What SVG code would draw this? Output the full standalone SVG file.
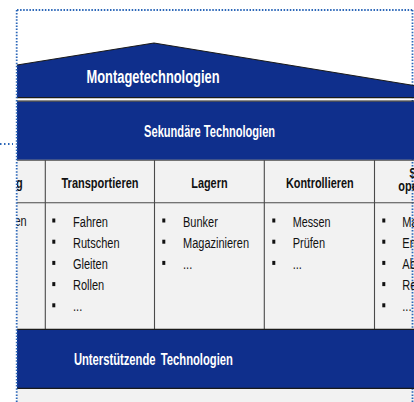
<svg xmlns="http://www.w3.org/2000/svg" width="414" height="402" viewBox="0 0 414 402">
  <style>
    .blue { fill: #0f2f8c; }
    .cell { fill: #f2f2f2; }
    .rule { stroke: #1a1a1a; stroke-width: 1.2; fill: none; }
    .div { stroke: #4a4a4a; stroke-width: 1.1; fill: none; }
    .dot { stroke: #2a66b8; stroke-width: 1.8; stroke-dasharray: 1.5 1.6; fill: none; }
    .title { font-family: "Liberation Sans Narrow", "Arial Narrow", "Liberation Sans", sans-serif; font-weight: bold; fill: #ffffff; text-anchor: middle; }
    .head { font-family: "Liberation Sans Narrow", "Arial Narrow", "Liberation Sans", sans-serif; font-weight: bold; font-size: 14.5px; fill: #111111; text-anchor: middle; }
    .item { font-family: "Liberation Sans Narrow", "Arial Narrow", "Liberation Sans", sans-serif; font-size: 15.5px; fill: #111111; }
    .bul { fill: #111111; }
  </style>
  <defs>
    <clipPath id="frameClip"><rect x="17" y="0" width="397" height="402"/></clipPath>
  </defs>
  <rect x="0" y="0" width="414" height="402" fill="#ffffff"/>
  <g clip-path="url(#frameClip)">
    <rect class="cell" x="17" y="160" width="397" height="169"/>
    <rect class="cell" x="17" y="389" width="397" height="13"/>
    <line class="dot" x1="412.5" y1="10" x2="412.5" y2="402"/>

    <g id="roof">
      <polygon class="blue" points="17,65 154,43 414,85.5 414,97.5 17,97.5"/>
      <polyline class="rule" points="17,65 154,43 414,85.5"/>
      <line class="rule" x1="17" y1="97.6" x2="414" y2="97.6"/>
      <text class="title" x="153" y="83" font-size="18" textLength="133" lengthAdjust="spacingAndGlyphs">Montagetechnologien</text>
    </g>

    <g id="secondary">
      <line class="rule" x1="17" y1="101.2" x2="414" y2="101.2"/>
      <rect class="blue" x="17" y="101.8" width="397" height="58"/>
      <text class="title" x="209.6" y="136.5" font-size="16" textLength="131" lengthAdjust="spacingAndGlyphs">Sekundäre Technologien</text>
    </g>

    <g id="table">
      <line class="div" x1="17" y1="160.2" x2="414" y2="160.2"/>
      <line class="div" x1="17" y1="202.7" x2="414" y2="202.7"/>
      <line class="div" x1="45.3" y1="160" x2="45.3" y2="329"/>
      <line class="div" x1="154.5" y1="160" x2="154.5" y2="329"/>
      <line class="div" x1="264.3" y1="160" x2="264.3" y2="329"/>
      <line class="div" x1="374.5" y1="160" x2="374.5" y2="329"/>
    </g>

    <g id="col-left">
      <text class="head" x="22.7" y="188" style="text-anchor:end" textLength="6.7" lengthAdjust="spacingAndGlyphs">g</text>
      <text class="item" x="26.7" y="226" text-anchor="end" textLength="12.2" lengthAdjust="spacingAndGlyphs">en</text>
    </g>

    <g id="col-transportieren">
      <text class="head" x="100" y="188" textLength="77" lengthAdjust="spacingAndGlyphs">Transportieren</text>
      <rect class="bul" x="52.3" y="218.5" width="3" height="4"/>
      <rect class="bul" x="52.3" y="239.7" width="3" height="4"/>
      <rect class="bul" x="52.3" y="260.9" width="3" height="4"/>
      <rect class="bul" x="52.3" y="282.1" width="3" height="4"/>
      <rect class="bul" x="52.3" y="303.3" width="3" height="4"/>
      <text class="item" x="73" y="226.5" textLength="35" lengthAdjust="spacingAndGlyphs">Fahren</text>
      <text class="item" x="73" y="247.7" textLength="46.5" lengthAdjust="spacingAndGlyphs">Rutschen</text>
      <text class="item" x="73" y="268.9" textLength="34.8" lengthAdjust="spacingAndGlyphs">Gleiten</text>
      <text class="item" x="73" y="290.1" textLength="31.2" lengthAdjust="spacingAndGlyphs">Rollen</text>
      <text class="item" x="73" y="311.3" textLength="9.2" lengthAdjust="spacingAndGlyphs">...</text>
    </g>

    <g id="col-lagern">
      <text class="head" x="209.4" y="188" textLength="36.3" lengthAdjust="spacingAndGlyphs">Lagern</text>
      <rect class="bul" x="162.3" y="218.5" width="3" height="4"/>
      <rect class="bul" x="162.3" y="239.7" width="3" height="4"/>
      <rect class="bul" x="162.3" y="260.9" width="3" height="4"/>
      <text class="item" x="183" y="226.5" textLength="34.8" lengthAdjust="spacingAndGlyphs">Bunker</text>
      <text class="item" x="183" y="247.7" textLength="66" lengthAdjust="spacingAndGlyphs">Magazinieren</text>
      <text class="item" x="183" y="268.9" textLength="9.2" lengthAdjust="spacingAndGlyphs">...</text>
    </g>

    <g id="col-kontrollieren">
      <text class="head" x="319.8" y="188" textLength="67.7" lengthAdjust="spacingAndGlyphs">Kontrollieren</text>
      <rect class="bul" x="272.3" y="218.5" width="3" height="4"/>
      <rect class="bul" x="272.3" y="239.7" width="3" height="4"/>
      <rect class="bul" x="272.3" y="260.9" width="3" height="4"/>
      <text class="item" x="292.7" y="226.5" textLength="37.8" lengthAdjust="spacingAndGlyphs">Messen</text>
      <text class="item" x="292.7" y="247.7" textLength="32.4" lengthAdjust="spacingAndGlyphs">Prüfen</text>
      <text class="item" x="292.7" y="268.9" textLength="9.2" lengthAdjust="spacingAndGlyphs">...</text>
    </g>

    <g id="col-right">
      <text class="head" x="409.3" y="178" style="text-anchor:start" textLength="7.3" lengthAdjust="spacingAndGlyphs">S</text>
      <text class="head" x="398.3" y="190.5" style="text-anchor:start" textLength="19.4" lengthAdjust="spacingAndGlyphs">ope</text>
      <rect class="bul" x="382.3" y="218.5" width="3" height="4"/>
      <rect class="bul" x="382.3" y="239.7" width="3" height="4"/>
      <rect class="bul" x="382.3" y="260.9" width="3" height="4"/>
      <rect class="bul" x="382.3" y="282.1" width="3" height="4"/>
      <rect class="bul" x="382.3" y="303.3" width="3" height="4"/>
      <text class="item" x="402.3" y="226.5" textLength="15.3" lengthAdjust="spacingAndGlyphs">Ma</text>
      <text class="item" x="402.3" y="247.7" textLength="13.5" lengthAdjust="spacingAndGlyphs">En</text>
      <text class="item" x="402.3" y="268.9" textLength="13.5" lengthAdjust="spacingAndGlyphs">Ab</text>
      <text class="item" x="402.3" y="290.1" textLength="14.1" lengthAdjust="spacingAndGlyphs">Re</text>
      <text class="item" x="402.3" y="311.3" textLength="9.2" lengthAdjust="spacingAndGlyphs">...</text>
    </g>

    <g id="supporting">
      <rect class="blue" x="17" y="329" width="397" height="59.5"/>
      <line class="rule" x1="17" y1="329.3" x2="414" y2="329.3"/>
      <line class="rule" x1="17" y1="388.4" x2="414" y2="388.4"/>
      <text class="title" x="153.4" y="365.3" font-size="16" word-spacing="3" textLength="159" lengthAdjust="spacingAndGlyphs">Unterstützende Technologien</text>
    </g>
  </g>

  <g id="frame">
    <line class="dot" x1="17" y1="10" x2="412.5" y2="10"/>
    <line class="dot" x1="16.7" y1="10" x2="16.7" y2="402"/>
    <line class="dot" x1="0" y1="144" x2="13" y2="144" style="stroke-dasharray:1.5 2.5"/>
  </g>
</svg>
